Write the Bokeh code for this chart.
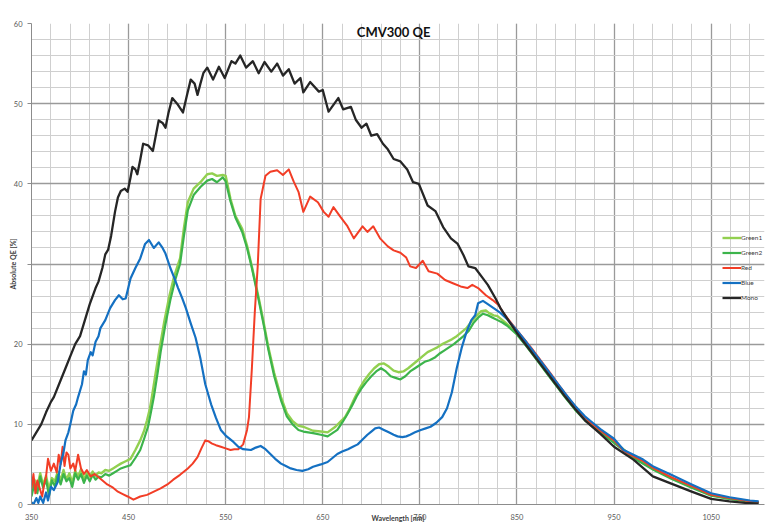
from bokeh.plotting import figure
from bokeh.models import FixedTicker, Legend, LegendItem, Label, Range1d
from bokeh.embed import file_html
from bokeh.resources import INLINE

TITLE = "CMV300 QE"
X_LABEL = "Wavelength [nm]"
Y_LABEL = "Absolute QE [%]"

x_major = [350, 450, 550, 650, 750, 850, 950, 1050]
x_minor = list(range(350, 1101, 20))
y_major = [0, 10, 20, 30, 40, 50, 60]
y_minor = list(range(0, 61, 2))

# ---------------- data ----------------
wl_green1 = [350, 353, 356, 359, 362, 365, 368, 371, 374, 377, 380, 383, 386, 389, 392, 395, 398, 401, 404, 407,
             410, 413, 416, 419, 422, 426, 430, 434, 438, 442, 447, 452, 457, 462, 466, 469, 472, 474, 478, 482,
             487, 492, 497, 503, 507, 511, 517, 524, 531, 536, 541, 547, 550, 555, 560, 567, 572, 577, 584, 589,
             594, 600, 607, 613, 619, 625, 630, 640, 648, 655, 663, 668, 673, 678, 683, 688, 693, 698, 703, 708,
             713, 718, 723, 728, 733, 738, 743, 748, 753, 758, 763, 768, 773, 778, 783, 788, 793, 798, 803, 808,
             813, 818, 821, 826, 830, 835, 840, 850, 860, 870, 880, 890, 900, 910, 920, 936, 950, 970, 991, 1009,
             1030, 1050, 1069, 1090, 1099]
qe_green1 = [1.6, 3.1, 2.2, 3.9, 2.4, 3.6, 1.9, 3.3, 2.9, 4.1, 3.0, 4.3, 3.1, 3.9, 2.7, 4.2, 3.5, 4.4, 3.1, 4.0,
             3.5, 4.1, 3.6, 4.0, 3.9, 4.3, 4.2, 4.5, 4.8, 5.1, 5.4, 5.7, 6.8, 8.0, 9.2, 10.5, 12.0, 13.4, 16.5, 19.5,
             23.0, 26.0, 28.5, 30.7, 34.5, 37.7, 39.4, 40.2, 41.2, 41.3, 41.0, 41.1, 41.0, 38.1, 36.0, 34.4, 32.3, 29.7, 25.8, 22.8,
             19.6, 16.4, 13.4, 11.4, 10.4, 9.8, 9.7, 9.2, 9.1, 9.0, 9.7, 10.3, 10.9, 12.0, 13.3, 14.5, 15.5, 16.3, 17.0, 17.5,
             17.6, 17.2, 16.7, 16.5, 16.6, 17.0, 17.5, 18.0, 18.5, 19.0, 19.3, 19.6, 20.0, 20.3, 20.6, 21.0, 21.5, 22.0, 22.8, 23.5,
             24.1, 24.2, 23.9, 23.6, 23.5, 23.0, 22.5, 21.3, 19.8, 18.2, 16.6, 15.0, 13.4, 11.9, 10.6, 9.1, 7.8, 5.9, 4.4, 3.3,
             2.2, 1.2, 0.7, 0.4, 0.3]

wl_green2 = [350, 353, 356, 359, 362, 365, 368, 371, 374, 377, 380, 383, 386, 389, 392, 395, 398, 401, 404, 407,
             410, 413, 416, 419, 422, 426, 430, 434, 438, 442, 447, 452, 457, 462, 466, 470, 473, 476, 480, 483,
             488, 493, 498, 503, 507, 511, 517, 524, 531, 536, 541, 547, 550, 555, 560, 567, 572, 577, 584, 589,
             594, 600, 607, 613, 619, 625, 630, 640, 648, 655, 660, 665, 670, 675, 680, 685, 690, 695, 700, 705,
             710, 715, 720, 725, 730, 735, 740, 745, 750, 755, 760, 765, 770, 775, 780, 785, 790, 795, 800, 805,
             810, 815, 820, 825, 830, 835, 840, 850, 860, 870, 880, 890, 900, 910, 920, 936, 950, 970, 991, 1009,
             1030, 1050, 1069, 1090, 1099]
qe_green2 = [1.0, 2.6, 1.4, 3.5, 2.1, 3.1, 1.1, 3.0, 2.3, 3.7, 2.5, 3.8, 2.9, 3.3, 2.2, 3.9, 3.1, 3.8, 2.7, 3.6,
             2.9, 3.7, 3.1, 3.5, 3.4, 3.8, 3.6, 3.9, 4.2, 4.5, 4.7, 4.9, 5.8, 6.8, 8.2, 9.7, 11.5, 13.4, 16.5, 19.0,
             22.5, 25.5, 28.0, 30.0, 33.5, 36.7, 38.6, 39.6, 40.4, 40.6, 40.2, 40.8, 40.3, 37.8, 35.8, 34.0, 32.0, 29.5, 25.5, 22.5,
             19.3, 16.0, 13.0, 11.0, 10.0, 9.3, 9.1, 8.9, 8.7, 8.5, 8.9, 9.3, 10.2, 11.2, 12.3, 13.5, 14.5, 15.3, 16.0, 16.6,
             17.0, 16.6, 16.0, 15.8, 15.6, 16.0, 16.6, 17.0, 17.4, 17.8, 18.0, 18.3, 18.8, 19.2, 19.6, 20.0, 20.5, 21.0, 21.6, 22.6,
             23.3, 23.8, 23.6, 23.3, 23.0, 22.7, 22.3, 21.2, 19.7, 18.1, 16.5, 14.9, 13.3, 11.8, 10.5, 9.0, 7.7, 5.8, 4.3, 3.2,
             2.1, 1.1, 0.7, 0.35, 0.25]

wl_red = [350, 352, 354, 356, 358, 361, 363, 365, 367, 370, 373, 376, 378, 380, 382, 384, 386, 388, 390, 393,
          395, 398, 401, 404, 407, 411, 415, 421, 428, 434, 439, 444, 449, 455, 462, 469, 476, 483, 490, 496,
          503, 511, 516, 521, 525, 529, 532, 536, 540, 545, 550, 555, 559, 563, 568, 572, 574, 577, 580, 583,
          586, 591, 596, 603, 609, 615, 620, 625, 630, 637, 645, 651, 656, 661, 668, 675, 682, 691, 696, 702,
          709, 717, 723, 730, 736, 740, 746, 753, 759, 768, 776, 784, 792, 799, 804, 810, 818, 825, 831, 836,
          845, 855, 865, 875, 885, 895, 905, 915, 925, 936, 950, 960, 970, 980, 991, 1009, 1030, 1050, 1069, 1090,
          1099]
qe_red = [2.0, 3.8, 1.4, 3.0, 2.2, 1.0, 2.5, 3.5, 5.7, 4.2, 5.1, 4.0, 6.2, 5.0, 7.2, 4.8, 6.5, 6.2, 4.5, 5.1,
          4.2, 6.2, 4.5, 3.8, 4.3, 3.5, 3.8, 3.2, 2.5, 2.1, 1.6, 1.3, 1.0, 0.6, 1.0, 1.2, 1.6, 2.0, 2.5, 3.1,
          3.7, 4.5, 5.1, 5.9, 7.0, 8.0, 7.9, 7.6, 7.4, 7.2, 7.0, 6.8, 6.9, 6.9, 7.5, 9.3, 10.9, 17.0, 24.0, 29.7,
          38.1, 41.0, 41.5, 41.7, 41.1, 41.8, 40.3, 39.0, 36.5, 38.4, 37.7, 36.5, 35.9, 37.1, 35.9, 34.8, 33.2, 34.7, 34.0, 34.7,
          33.2, 32.2, 31.7, 31.4, 30.8, 29.7, 29.5, 30.4, 29.1, 28.8, 28.0, 27.6, 27.2, 27.0, 27.4, 27.0, 26.1, 25.5, 24.9, 23.9,
          22.5, 21.0, 19.5, 17.9, 16.3, 14.6, 13.0, 11.5, 10.3, 9.2, 8.0, 6.7, 6.0, 5.4, 4.5, 3.4, 2.3, 1.2, 0.8, 0.4,
          0.3]

wl_blue = [350, 352, 355, 357, 359, 362, 365, 367, 370, 373, 377, 380, 383, 385, 388, 390, 393, 396, 398, 402,
           404, 406, 408, 411, 413, 416, 419, 421, 426, 431, 436, 440, 444, 447, 452, 457, 462, 467, 471, 476,
           481, 485, 488, 493, 497, 501, 505, 509, 514, 519, 524, 529, 535, 540, 545, 550, 558, 563, 568, 576,
           581, 586, 591, 596, 601, 607, 612, 617, 623, 629, 635, 640, 648, 655, 660, 665, 670, 676, 681, 686,
           691, 696, 700, 704, 708, 713, 718, 723, 727, 732, 736, 740, 745, 751, 756, 761, 767, 773, 778, 783,
           788, 793, 798, 803, 807, 810, 815, 820, 826, 833, 840, 850, 860, 870, 880, 890, 900, 910, 920, 928,
           936, 950, 960, 970, 980, 991, 1009, 1030, 1050, 1069, 1090, 1099]
qe_blue = [0.3, 0.0, 0.8, 0.2, 1.0, 0.2, 1.5, 0.5, 2.2, 1.8, 2.8, 5.1, 6.5, 8.0, 9.0, 10.0, 11.7, 12.5, 13.4, 15.0,
           16.6, 16.2, 18.0, 19.0, 18.6, 20.3, 21.0, 22.0, 23.0, 24.5, 25.5, 26.1, 25.6, 25.7, 28.2, 29.5, 30.7, 32.5, 33.0, 32.0,
           32.7, 32.0, 31.3, 29.5, 28.3, 27.0, 25.8, 24.5, 22.6, 20.8, 18.2, 15.0, 12.5, 10.8, 9.3, 8.6, 7.8, 7.2, 6.9, 6.8,
           7.1, 7.3, 6.9, 6.3, 5.7, 5.1, 4.8, 4.5, 4.3, 4.2, 4.4, 4.7, 5.0, 5.3, 5.8, 6.3, 6.6, 6.9, 7.2, 7.5,
           8.1, 8.7, 9.1, 9.5, 9.6, 9.3, 9.0, 8.7, 8.5, 8.4, 8.5, 8.7, 9.0, 9.3, 9.5, 9.7, 10.2, 10.9, 12.0, 14.0,
           17.0, 19.5, 21.5, 23.0, 23.6, 25.1, 25.4, 25.0, 24.5, 23.9, 23.1, 21.7, 20.2, 18.6, 17.0, 15.4, 13.8, 12.3, 11.0, 10.2,
           9.4, 8.2, 6.8, 6.2, 5.6, 4.7, 3.7, 2.5, 1.4, 0.9, 0.5, 0.4]

wl_mono = [350, 355, 360, 365, 370, 373, 380, 385, 390, 395, 400, 405, 410, 413, 416, 419, 423, 426, 429, 432,
           436, 439, 442, 446, 449, 452, 454, 457, 459, 462, 465, 470, 475, 478, 481, 485, 488, 491, 495, 500,
           506, 510, 514, 518, 521, 524, 527, 531, 537, 543, 549, 556, 560, 565, 571, 578, 584, 590, 597, 603,
           609, 615, 621, 627, 630, 637, 646, 650, 656, 666, 671, 679, 684, 690, 695, 700, 706, 712, 717, 723,
           730, 737, 743, 749, 758, 766, 774, 782, 789, 795, 800, 807, 815, 820, 828, 833, 840, 850, 860, 870,
           880, 890, 900, 910, 920, 936, 950, 970, 990, 1009, 1030, 1050, 1069, 1085, 1099]
qe_mono = [8.0, 9.0, 10.0, 11.5, 12.8, 13.4, 15.5, 17.0, 18.5, 20.0, 21.0, 23.0, 25.0, 26.0, 27.0, 27.8, 29.5, 31.2, 31.8, 33.5,
           36.5, 38.3, 39.1, 39.4, 39.0, 40.8, 42.1, 41.8, 41.2, 43.0, 45.0, 44.8, 44.1, 46.0, 47.9, 47.6, 47.0, 48.8, 50.7, 50.0,
           48.9, 51.0, 53.0, 52.5, 51.1, 52.5, 53.8, 54.5, 53.0, 54.6, 53.2, 55.3, 55.0, 56.0, 54.5, 55.3, 53.8, 55.2, 54.0, 55.0,
           53.5, 54.3, 52.5, 53.2, 51.4, 52.7, 51.5, 51.7, 49.0, 50.7, 49.3, 49.6, 48.0, 47.0, 47.5, 46.0, 46.2, 45.0, 44.3, 43.1,
           42.8, 41.8, 40.2, 40.0, 37.3, 36.6, 34.6, 33.2, 32.5, 31.1, 29.7, 29.5, 28.2, 27.4, 25.7, 24.5, 23.2, 21.4, 19.8, 18.2,
           16.6, 15.0, 13.4, 11.9, 10.5, 8.8, 7.2, 5.6, 3.5, 2.6, 1.6, 0.7, 0.4, 0.2, 0.1]

series_names = ["Green1", "Green2", "Red", "Blue", "Mono"]
series_colors = ["#92d050", "#3cb44b", "#f23d26", "#1470c2", "#262626"]
series_widths = [2.4, 2.2, 2.0, 2.2, 2.3]
series_wl = [wl_green1, wl_green2, wl_red, wl_blue, wl_mono]
series_qe = [qe_green1, qe_green2, qe_red, qe_blue, qe_mono]

# ---------------- figure ----------------
p = figure(width=768, height=524, x_range=Range1d(350, 1105), y_range=Range1d(0, 60),
           output_backend="svg", toolbar_location=None,
           min_border_left=31, min_border_right=4, min_border_top=23, min_border_bottom=16,
           background_fill_color="white", border_fill_color="white", outline_line_color=None)

xt = FixedTicker(ticks=x_major, minor_ticks=x_minor)
yt = FixedTicker(ticks=y_major, minor_ticks=y_minor)
p.xaxis.ticker = xt
p.yaxis.ticker = yt
p.xgrid.ticker = xt
p.ygrid.ticker = yt
for g in (p.xgrid, p.ygrid):
    g.grid_line_color = "#9a9a9a"
    g.grid_line_width = 1.3
    g.minor_grid_line_color = "#cfcfcf"
    g.minor_grid_line_width = 1

for ax in (p.xaxis, p.yaxis):
    ax.axis_line_color = "#8c8c8c"
    ax.major_tick_line_color = "#8c8c8c"
    ax.minor_tick_line_color = None
    ax.major_tick_in = 0
    ax.major_label_text_font = "Lato"
    ax.major_label_text_font_size = "7.5px"
    ax.major_label_text_color = "#595959"
    ax.axis_label_text_font = "Lato"
    ax.axis_label_text_font_size = "7px"
    ax.axis_label_text_font_style = "bold"
    ax.axis_label_text_color = "#404040"

p.xaxis.major_tick_out = 0
p.xaxis.major_label_standoff = 5
p.xaxis.axis_label = X_LABEL
p.xaxis.axis_label_standoff = -9

p.yaxis.major_tick_out = 4
p.yaxis.major_label_standoff = 5
p.yaxis.major_label_overrides = {30: ""}
p.yaxis.axis_label = Y_LABEL
p.yaxis.axis_label_standoff = -6

renderers = []
for name, wl, qe, c, w in zip(series_names, series_wl, series_qe, series_colors, series_widths):
    r = p.line(wl, qe, line_color=c, line_width=w, line_join="round")
    renderers.append((name, r))

legend = Legend(items=[LegendItem(label=n, renderers=[r]) for n, r in renderers],
                location=(691, 200), orientation="vertical", padding=0, margin=0, spacing=2,
                glyph_width=19, glyph_height=13, label_height=13, label_standoff=0,
                label_text_font="Lato", label_text_font_size="6.5px", label_text_color="#404040",
                background_fill_alpha=0, border_line_alpha=0)
p.add_layout(legend)

p.add_layout(Label(x=723, y=59.0, text=TITLE, text_font="Lato", text_font_size="13px",
                   text_font_style="bold", text_color="#111111", text_align="center",
                   text_baseline="middle"))

open("out.html", "w").write(file_html(p, INLINE))
